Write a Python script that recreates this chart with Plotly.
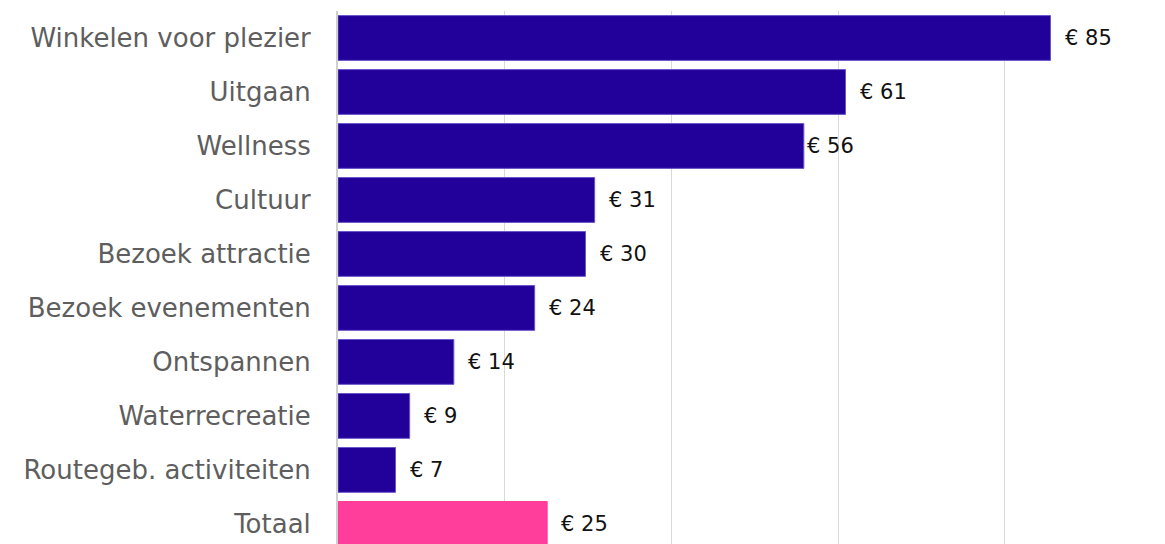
import plotly.graph_objects as go

categories = ["Winkelen voor plezier", "Uitgaan", "Wellness", "Cultuur", "Bezoek attractie",
              "Bezoek evenementen", "Ontspannen", "Waterrecreatie", "Routegeb. activiteiten", "Totaal"]
values = [85.5, 60.9, 55.9, 30.8, 29.7, 23.6, 13.9, 8.6, 6.9, 25.1]
labels = ["€ 85", "€ 61", "€ 56", "€ 31", "€ 30", "€ 24", "€ 14", "€ 9", "€ 7", "€ 25"]
label_gap = [12, 12, 1, 12, 12, 12, 12, 12, 12, 12]

colors = ["#22009A"] * 9 + ["#FF3D9A"]
line_colors = ["#6A55C8"] * 9 + ["#FF3D9A"]

fig = go.Figure(go.Bar(
    y=categories, x=values, orientation="h",
    marker=dict(color=colors, line=dict(color=line_colors, width=1)),
    width=0.83,
))

for c, v, t, g in zip(categories, values, labels, label_gap):
    fig.add_annotation(x=v, y=c, text=t, showarrow=False, xanchor="left", xshift=g,
                       font=dict(family="DejaVu Sans", size=21, color="#111111"))

# page body has an 8px margin; compensate so the plot lands where the reference has it
fig.update_layout(
    width=1165, height=544,
    margin=dict(l=330, r=0, t=3, b=0),
    plot_bgcolor="white", paper_bgcolor="white",
    showlegend=False,
    xaxis=dict(range=[0, 100.2], dtick=20, showgrid=True, gridcolor="#D9D9D9", gridwidth=1,
               showticklabels=False, zeroline=False, showline=False),
    yaxis=dict(range=[9.52, -0.5], showgrid=False, showline=True, linecolor="#CFCFCF", linewidth=2,
               tickfont=dict(family="DejaVu Sans", size=26, color="#5E5E5E"),
               ticklabelstandoff=20, ticks=""),
)

fig.write_html("out.html")
